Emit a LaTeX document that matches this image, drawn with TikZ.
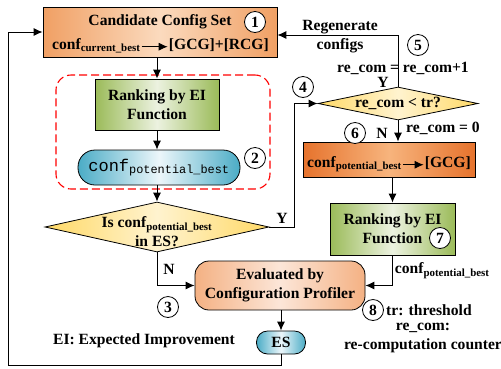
\documentclass[tikz,border=0pt]{standalone}
\usepackage{fontspec}
\setmainfont{Liberation Serif}
\setmonofont{Liberation Mono}
\usetikzlibrary{shapes.geometric, arrows.meta}

\definecolor{orangeA}{RGB}{240,160,100}
\definecolor{orangeB}{RGB}{251,218,190}
\definecolor{orangeC}{RGB}{230,115,45}
\definecolor{orangeD}{RGB}{247,180,125}
\definecolor{greenA}{RGB}{155,187,89}
\definecolor{greenB}{RGB}{236,242,224}
\definecolor{blueA}{RGB}{75,172,198}
\definecolor{blueB}{RGB}{236,246,250}
\definecolor{yellowA}{RGB}{255,217,102}
\definecolor{yellowB}{RGB}{255,243,207}
\definecolor{peachA}{RGB}{244,177,131}
\definecolor{peachB}{RGB}{252,230,216}

\newcommand{\confsub}[1]{conf\textsubscript{#1}}

\tikzset{
  lbl/.style={font=\bfseries\fontsize{15.6}{19}\selectfont, align=center, inner sep=1pt},
  base/.style={lbl, draw, line width=0.8pt, inner sep=0pt},
  orangebox/.style={base, left color=orangeA, right color=orangeA, middle color=orangeB},
  darkorangebox/.style={base, left color=orangeC, right color=orangeC, middle color=orangeD},
  greenbox/.style={base, left color=greenA, right color=greenA, middle color=greenB},
  bluepill/.style={base, left color=blueA, right color=blueA, middle color=blueB},
  peachbox/.style={base, left color=peachA, right color=peachA, middle color=peachB},
  yellowdiam/.style={base, diamond, left color=yellowA, right color=yellowA, middle color=yellowB},
  flow/.style={-{Latex[length=9pt,width=8pt]}, line width=0.9pt},
  num/.style={circle, draw, fill=white, line width=0.8pt, minimum size=21pt, inner sep=0pt,
    font=\bfseries\fontsize{15.6}{17}\selectfont},
}

\begin{document}
\begin{tikzpicture}[x=1pt, y=-1pt]
    \useasboundingbox (0,0) rectangle (501,368);

    % Draw nodes
    \node[draw=red, dashed, dash pattern=on 8pt off 4pt, line width=1.1pt, rounded corners=15pt,
      minimum width=214pt, minimum height=114pt] (group) at (163,132) {};

    \node[orangebox, minimum width=234pt, minimum height=50pt] (cand) at (160,32) {};
    \node[lbl, anchor=base] (candtitle) at (160,25) {Candidate Config Set};
    \node[lbl, anchor=base west] (curbest) at (51,49) {\confsub{current\_best}};
    \node[lbl, anchor=base east] (gcgrcg) at (270,49) {[GCG]+[RCG]};

    \node[greenbox, minimum width=124pt, minimum height=51pt] (rank1) at (157,104.5) {Ranking by EI\\Function};
    \node[bluepill, rounded corners=17pt, minimum width=162pt, minimum height=35pt] (potbest) at (159,167.5)
      {\ttfamily\mdseries\fontsize{17}{18}\selectfont conf\textsubscript{potential\_best}};
    \node[yellowdiam, minimum width=224pt, minimum height=50pt] (inES) at (157,227) {};
    \node[lbl] (inEStext) at (157,232) {Is \confsub{potential\_best}\\in ES?};

    \node[peachbox, rounded corners=14pt, minimum width=170pt, minimum height=49pt] (eval) at (280,285.5)
      {Evaluated by\\Configuration Profiler};
    \node[bluepill, rounded corners=11pt, minimum width=49pt, minimum height=23pt] (es) at (281,342.5) {ES};

    \node[yellowdiam, minimum width=160pt, minimum height=33pt] (recom) at (398,103.5) {};
    \node[lbl] (recomtext) at (398,103.5) {re\_com < tr?};

    \node[darkorangebox, minimum width=172pt, minimum height=35pt] (gcgbox) at (389,159.5) {};
    \node[lbl, anchor=base west] (potbest2) at (306,167) {\confsub{potential\_best}};
    \node[lbl, anchor=base east] (gcg) at (472,167) {[GCG]};

    \node[greenbox, minimum width=125pt, minimum height=52pt] (rank2) at (392.5,229) {Ranking by EI\\Function};

    \coordinate (loopcorner) at (8,365);

    % Draw connections
    \draw[flow] (curbest.mid east) -- (gcgrcg.mid west);
    \draw[flow] (potbest2.mid east) -- (gcg.mid west);
    \draw[flow] (cand.south -| rank1.north) -- (rank1.north);
    \draw[flow] (rank1.south) -- (rank1.south |- potbest.north);
    \draw[flow] (potbest.south -| inES.north) -- (inES.north);
    \draw[flow] (inES.east) -- ++(25,0) node[lbl, midway, above=2pt] {Y} |- (recom.west);
    \draw[flow] (inES.south) |- (eval.west) node[lbl, pos=0.25, right=5pt] {N};
    \draw[flow] (eval.south -| es.north) -- (es.north);
    \draw[flow] (es.south) |- (loopcorner) |- (cand.west);
    \draw[flow] (recom.north) |- ([yshift=-3pt]cand.east);
    \draw[flow] (recom.south) -- (recom.south |- gcgbox.north);
    \draw[flow] (gcgbox.south -| rank2.north) -- (rank2.north);
    \draw[flow] (rank2.south) |- (eval.east) node[lbl, pos=0.25, right=1pt] {\confsub{potential\_best}};

    % Labels
    \node[lbl] (regen) at (340,36.5) {Regenerate\\configs};
    \node[lbl] (incr) at (403,68) {re\_com = re\_com+1};
    \node[lbl] (yes2) at (383,82) {Y};
    \node[lbl] (no2) at (382,133) {N};
    \node[lbl] (reset) at (443,128) {re\_com = 0};
    \node[lbl] (ei) at (144,341) {EI: Expected Improvement};
    \node[lbl, anchor=west] (thr) at (385,310) {tr: threshold};
    \node[lbl] (counter) at (423,337.5) {re\_com:\\re-computation counter};

    \node[num] (n1) at (255,22) {1};
    \node[num] (n2) at (255,158) {2};
    \node[num] (n3) at (168,307) {3};
    \node[num] (n4) at (303,87) {4};
    \node[num] (n5) at (418,45) {5};
    \node[num] (n6) at (355,133) {6};
    \node[num] (n7) at (440,238) {7};
    \node[num] (n8) at (373,310) {8};
\end{tikzpicture}
\end{document}
